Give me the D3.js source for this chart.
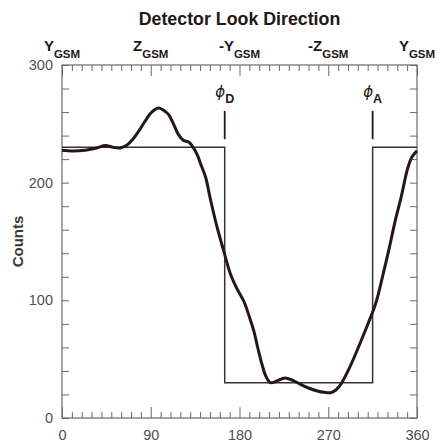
<!DOCTYPE html>
<html><head><meta charset="utf-8">
<script src="https://cdn.jsdelivr.net/npm/d3@7"></script>
<style>
html,body{margin:0;padding:0;background:#fff;}
svg{display:block;font-family:"Liberation Sans",Arial,sans-serif;}
</style></head>
<body><svg id="c" width="437" height="446"></svg>
<script>
// ---- data ----
const curveDeg = [0,10,23,35,44,52,59,66,71,78,84,91,98,104,108,113,118,123,128.5,133,137,141,145.5,150.5,157,164,171,178,184.5,190,194.5,199,203,207,211.5,218,226,234,242,250,259,266,272.5,278,283,290,296,303,310,318,325,332,338,344,350.5,355,360];
const curveVal = [227.5,227,227.5,229.5,231.5,230,229.5,232,236,244,252,260,263.5,261,258,250,241,236,234.5,230,224,215,205,186,163,142,122,109,99,86,74,58,45,35,30,31.5,34,32,28.6,25.5,23,21.8,21.5,24,29,40,51,65,79.5,97,120,145,168,188,212,222,227];
const stepDeg = [0,165,315,360];
const stepVal = [230,30,230,230];
const markerNames = ["D","A"];
const markerDeg = [165,315];
const markerRange = [237,261];
const xMajorTicks = [0,90,180,270,360];
const yMajorTicks = [0,100,200,300];
const topLabelMain = ["Y","Z","-Y","-Z","Y"];
const topLabelSub = ["GSM","GSM","GSM","GSM","GSM"];
const titleText = "Detector Look Direction";
const yLabel = "Counts";

// ---- layout ----
const L=62,R=417,T=65,B=418;
const svg=d3.select("#c");
const x=d3.scaleLinear().domain([0,360]).range([L,R]);
const y=d3.scaleLinear().domain([0,300]).range([B,T]);
const axisCol="#6e6869", labCol="#505050", inkCol="#231815";

const xMinor=d3.range(0,361,10).filter(v=>!xMajorTicks.includes(v));
const yMinor=d3.range(0,301,20).filter(v=>!yMajorTicks.includes(v));

function style(g){g.attr("font-size",null).attr("font-family",null);g.select(".domain").remove();g.selectAll("line").attr("stroke",axisCol).attr("stroke-width",1);g.selectAll("text").attr("fill",labCol).style("font-size","14.5px").style("font-family","'Liberation Sans',Arial,sans-serif");}

// bottom
svg.append("g").attr("transform",`translate(0,${B})`).call(d3.axisBottom(x).tickValues(xMinor).tickSize(-6).tickFormat("")).call(style);
svg.append("g").attr("transform",`translate(0,${B})`).call(d3.axisBottom(x).tickValues(xMajorTicks).tickSize(-11).tickPadding(11.5).tickFormat(d3.format("d"))).call(style);
// top
svg.append("g").attr("transform",`translate(0,${T})`).call(d3.axisTop(x).tickValues(xMinor).tickSize(-6).tickFormat("")).call(style);
svg.append("g").attr("transform",`translate(0,${T})`).call(d3.axisTop(x).tickValues(xMajorTicks).tickSize(-11).tickFormat("")).call(style);
// left
svg.append("g").attr("transform",`translate(${L},0)`).call(d3.axisLeft(y).tickValues(yMinor).tickSize(-7).tickFormat("")).call(style);
svg.append("g").attr("transform",`translate(${L},0)`).call(d3.axisLeft(y).tickValues(yMajorTicks).tickSize(-7).tickPadding(9).tickFormat(d3.format("d"))).call(style);
// right
svg.append("g").attr("transform",`translate(${R},0)`).call(d3.axisRight(y).tickValues(yMinor.concat(yMajorTicks)).tickSize(-7).tickFormat("")).call(style);

// frame
svg.append("rect").attr("x",L).attr("y",T).attr("width",R-L).attr("height",B-T).attr("fill","none").attr("stroke",axisCol).attr("stroke-width",1.2);

// top labels
const tl=svg.append("g");
xMajorTicks.forEach((v,i)=>{
  const t=tl.append("text").attr("x",x(v)).attr("y",51).attr("text-anchor","middle").attr("fill",inkCol).style("font-weight","bold");
  t.append("tspan").style("font-size","15px").text(topLabelMain[i]);
  t.append("tspan").attr("dy",7).style("font-size","11.5px").text(topLabelSub[i]);
});

// title
svg.append("text").attr("x",(L+R)/2).attr("y",25).attr("text-anchor","middle").attr("fill",inkCol).style("font-weight","bold").style("font-size","17.8px").text(titleText);
// y label
svg.append("text").attr("transform",`translate(23,${(T+B)/2}) rotate(-90)`).attr("text-anchor","middle").attr("fill","#3a3536").style("font-weight","bold").style("font-size","15px").text(yLabel);

// step (square wave)
const stepData=stepDeg.map((d,i)=>[d,stepVal[i]]);
svg.append("path").datum(stepData).attr("fill","none").attr("stroke","#3a3133").attr("stroke-width",1.5)
  .attr("d",d3.line().x(d=>x(d[0])).y(d=>y(d[1])).curve(d3.curveStepAfter));

// smooth curve
const cData=curveDeg.map((d,i)=>[d,curveVal[i]]);
svg.append("path").datum(cData).attr("fill","none").attr("stroke",inkCol).attr("stroke-width",3).attr("stroke-linejoin","round")
  .attr("d",d3.line().x(d=>x(d[0])).y(d=>y(d[1])).curve(d3.curveCatmullRom.alpha(0.5)));

// markers
markerDeg.forEach((v,i)=>{
  svg.append("line").attr("x1",x(v)).attr("x2",x(v)).attr("y1",y(markerRange[0])).attr("y2",y(markerRange[1])).attr("stroke",inkCol).attr("stroke-width",1.8);
  const t=svg.append("text").attr("x",x(v)).attr("y",97).attr("text-anchor","middle").attr("fill",inkCol);
  t.append("tspan").style("font-style","italic").style("font-family","'DejaVu Sans',sans-serif").style("font-size","15px").text("ϕ");
  t.append("tspan").attr("dy",6).style("font-weight","bold").style("font-size","12.5px").text(markerNames[i]);
});
</script></body></html>
